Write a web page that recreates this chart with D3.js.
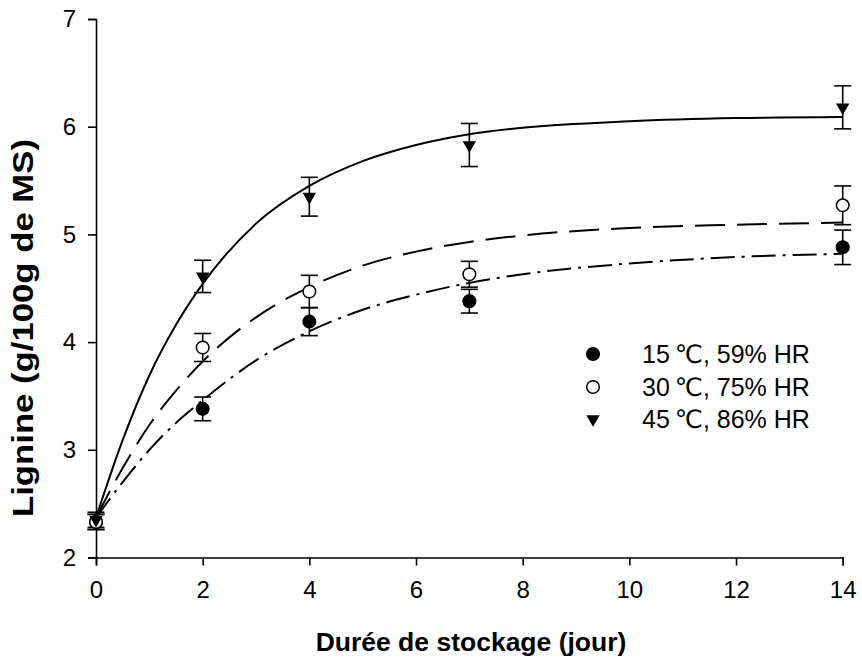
<!DOCTYPE html>
<html><head><meta charset="utf-8">
<script src="https://cdn.jsdelivr.net/npm/d3@7"></script>
<style>body{margin:0;background:#fff}svg{display:block}</style>
</head><body>
<svg id="chart" width="862" height="666"></svg>
<script>
// ---- data ----
const days = [0, 2, 4, 7, 14];
const lig15 = [2.33, 3.38, 4.19, 4.38, 4.88];
const err15 = [0.07, 0.11, 0.13, 0.11, 0.16];
const lig30 = [2.33, 3.95, 4.47, 4.63, 5.27];
const err30 = [0.07, 0.13, 0.15, 0.12, 0.18];
const lig45 = [2.35, 4.61, 5.35, 5.83, 6.18];
const err45 = [0.07, 0.15, 0.18, 0.20, 0.20];
// fitted curves
const curveDays = [0, 0.5, 1, 1.5, 2, 3, 4, 5, 6, 7, 8, 10, 12, 14];
const fit15 = [2.37, 2.70, 3.00, 3.25, 3.46, 3.83, 4.10, 4.30, 4.44, 4.55, 4.63, 4.73, 4.79, 4.82];
const fit30 = [2.37, 2.83, 3.23, 3.55, 3.82, 4.23, 4.51, 4.71, 4.84, 4.93, 4.99, 5.06, 5.09, 5.11];
const fit45 = [2.37, 3.09, 3.69, 4.16, 4.54, 5.10, 5.45, 5.68, 5.83, 5.93, 5.99, 6.05, 6.08, 6.09];
const legendTemps = ["15", "30", "45"];
const legendHR = [", 59% HR", ", 75% HR", ", 86% HR"];
const xTicks = [0, 2, 4, 6, 8, 10, 12, 14];
const yTicks = [2, 3, 4, 5, 6, 7];

const svg = d3.select("#chart");
const x = d3.scaleLinear().domain([0, 14]).range([96, 842.7]);
const y = d3.scaleLinear().domain([2, 7]).range([557.5, 19]);
const FONT = "'Liberation Sans', Arial, Helvetica, sans-serif";

// axes
const xAxis = d3.axisBottom(x).tickValues(xTicks).tickFormat(d3.format("d")).tickSizeOuter(0).tickSize(8).tickPadding(15);
const yAxis = d3.axisLeft(y).tickValues(yTicks).tickFormat(d3.format("d")).tickSizeOuter(0).tickSize(8).tickPadding(12);
const gx = svg.append("g").attr("transform", `translate(0,${y(2)})`).call(xAxis);
const gy = svg.append("g").attr("transform", `translate(${x(0)},0)`).call(yAxis);
[gx, gy].forEach(g => {
  g.select(".domain").attr("stroke", "#000").attr("stroke-width", 1.6);
  g.selectAll(".tick line").attr("stroke", "#000").attr("stroke-width", 1.6);
  g.selectAll(".tick text").attr("fill", "#000").style("font-family", FONT).style("font-size", "24px");
});

// titles
svg.append("text").attr("x", 471).attr("y", 651).attr("text-anchor", "middle")
  .style("font-family", FONT).style("font-size", "26.5px").style("font-weight", "bold")
  .text("Durée de stockage (jour)");
svg.append("text").attr("transform", "translate(33,328) rotate(-90)").attr("text-anchor", "middle")
  .attr("textLength", 378).attr("lengthAdjust", "spacingAndGlyphs")
  .style("font-family", FONT).style("font-size", "29px").style("font-weight", "bold")
  .text("Lignine (g/100g de MS)");

// curves
const line = d3.line().x(d => x(d[0])).y(d => y(d[1])).curve(d3.curveMonotoneX);
const curves = [
  {vals: fit15, dash: "24,7,3,7"},
  {vals: fit30, dash: "30,12"},
  {vals: fit45, dash: null}
];
curves.forEach(c => {
  svg.append("path").datum(curveDays.map((d, i) => [d, c.vals[i]]))
    .attr("d", line).attr("fill", "none").attr("stroke", "#000").attr("stroke-width", 2)
    .attr("stroke-dasharray", c.dash);
});

// series
const series = [
  {vals: lig15, errs: err15, kind: "filled"},
  {vals: lig30, errs: err30, kind: "open"},
  {vals: lig45, errs: err45, kind: "tri"}
];
const cap = 8.5;
series.forEach(s => {
  const g = svg.append("g");
  days.forEach((d, i) => {
    const cx = x(d), y1 = y(s.vals[i] - s.errs[i]), y2 = y(s.vals[i] + s.errs[i]);
    g.append("line").attr("x1", cx).attr("x2", cx).attr("y1", y1).attr("y2", y2).attr("stroke", "#000").attr("stroke-width", 1.6);
    g.append("line").attr("x1", cx - cap).attr("x2", cx + cap).attr("y1", y1).attr("y2", y1).attr("stroke", "#000").attr("stroke-width", 1.6);
    g.append("line").attr("x1", cx - cap).attr("x2", cx + cap).attr("y1", y2).attr("y2", y2).attr("stroke", "#000").attr("stroke-width", 1.6);
  });
});
function marker(g, kind, cx, cy) {
  if (kind === "tri") {
    g.append("path").attr("d", d3.symbol().type(d3.symbolTriangle).size(78)())
      .attr("transform", `translate(${cx},${cy}) rotate(180)`).attr("fill", "#000");
  } else {
    g.append("circle").attr("cx", cx).attr("cy", cy).attr("r", 6.3)
      .attr("fill", kind === "open" ? "#fff" : "#000").attr("stroke", "#000").attr("stroke-width", 1.5);
  }
}
series.forEach(s => {
  const g = svg.append("g");
  days.forEach((d, i) => marker(g, s.kind, x(d), y(s.vals[i])));
});

// legend
const legendY = [354, 387, 419];
series.forEach((s, i) => {
  const g = svg.append("g");
  marker(g, s.kind, 593, legendY[i]);
  const t = g.append("text").attr("x", 642).attr("y", legendY[i]).attr("dy", "0.36em")
    .style("font-family", FONT).style("font-size", "25px");
  t.append("tspan").text(legendTemps[i]);
  t.append("tspan").attr("dx", 5).style("font-family", "'DejaVu Sans', sans-serif").text("\u2103");
  t.append("tspan").text(legendHR[i]);
});
</script>
</body></html>
